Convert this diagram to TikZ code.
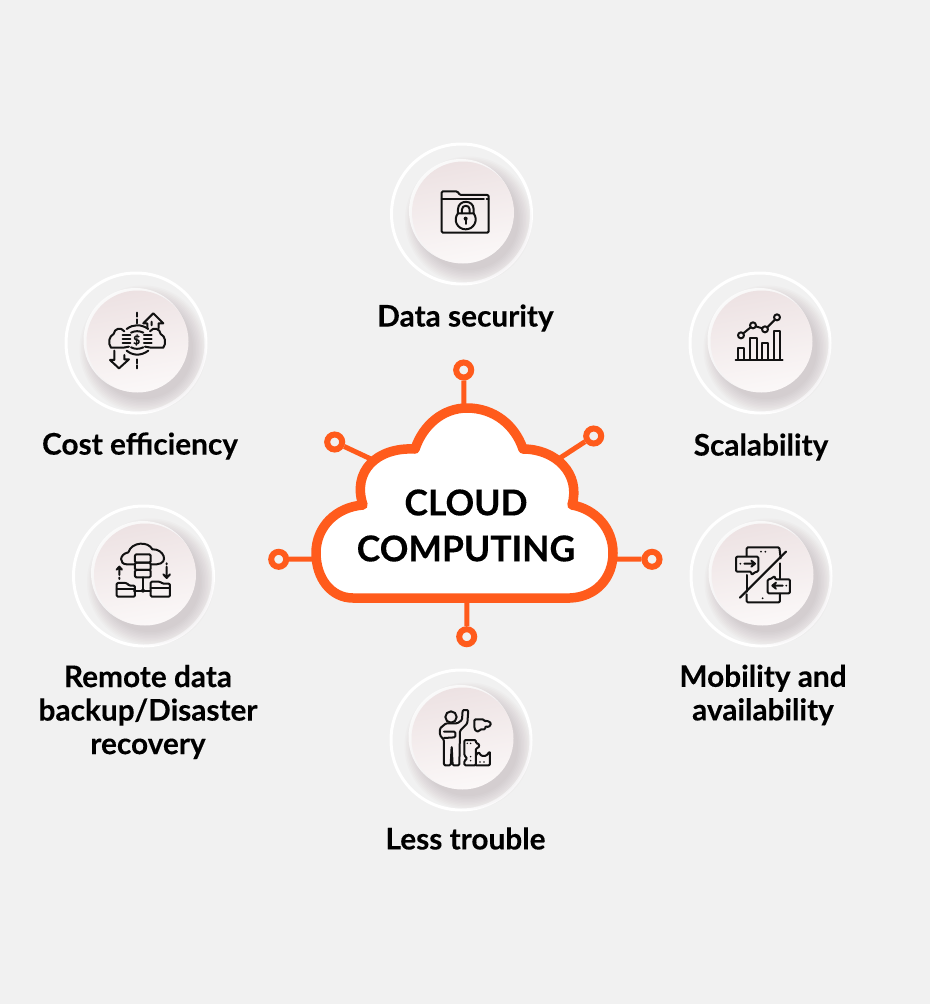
\documentclass[tikz,border=0pt]{standalone}
\usepackage{fontspec}
\setmainfont{Lato}[BoldFont={Lato Bold},BoldFeatures={FakeBold=0.2}]
\definecolor{bg}{HTML}{F1F1F1}
\definecolor{orng}{HTML}{FF5B1C}
\definecolor{ink}{HTML}{111111}
\definecolor{shadowc}{HTML}{A08890}
\definecolor{disktop}{HTML}{EDE2E3}
\definecolor{diskbot}{HTML}{FBF8F8}
\tikzset{
  ringc/.style={circle,draw=white,line width=3pt,minimum size=140pt,inner sep=0pt},
  diskc/.style={circle,minimum size=102pt,inner sep=0pt,top color=disktop,bottom color=diskbot,shading angle=10},
  lab/.style={font=\fontsize{29.8}{33.5}\selectfont\bfseries,align=center,text=black,inner sep=0pt},
  cloudtext/.style={font=\fontsize{35.5}{46}\selectfont\bfseries,align=center,text=black,inner sep=0pt},
  pin/.style={circle,draw=orng,line width=6pt,fill=bg,minimum size=15pt,inner sep=0pt},
  spoke/.style={draw=orng,line width=5pt},
  ico/.style={draw=ink,line width=2pt,line join=round,line cap=round},
  icobox/.style={ico,rounded corners=1.2pt},
}
\newcommand{\badge}[3]{%
  \node[ringc] (r#1) at (#2,#3) {};
  \foreach \rr in {50,51.5,...,64}{
    \fill[shadowc,opacity=0.035] (#2+7,#3+6) circle (\rr pt);
  }
  \fill[white,opacity=0.75] (#2-0.5,#3-3) circle (52pt);
  \node[diskc] (d#1) at (#2+1.5,#3-1.5) {};
}
\begin{document}
\begin{tikzpicture}[x=1pt,y=-1pt]
\useasboundingbox (0,0) rectangle (930,1004);
\fill[bg] (0,0) rectangle (930,1004);

\badge{sec}{461.5}{214}
\badge{cost}{136}{343}
\badge{sca}{760}{343}
\badge{rem}{143.5}{576}
\badge{mob}{761}{576}
\badge{les}{461}{740}

% labels
\node[lab] (lsec) at (465.5,318) {Data security};
\node[lab] (lcost) at (140,446) {Cost efficiency};
\node[lab] (lsca) at (761,447) {Scalability};
\node[lab] (lrem) at (148,712) {Remote data\\backup/Disaster\\recovery};
\node[lab] (lmob) at (763,695) {Mobility and\\availability};
\node[lab] (lles) at (465.5,838.5) {Less trouble};

% cloud anchors and pins
\coordinate (ct) at (464,408);
\coordinate (cul) at (373,460);
\coordinate (cur) at (560,458);
\coordinate (cl) at (316,559);
\coordinate (cr) at (613,559);
\coordinate (cb) at (467,598);
\node[pin] (pt) at (463.7,370) {};
\node[pin] (pul) at (334.7,442) {};
\node[pin] (pur) at (593.7,436) {};
\node[pin] (pl) at (278.7,559.3) {};
\node[pin] (pr) at (652,559.3) {};
\node[pin] (pb) at (466.7,636.7) {};
\draw[spoke] (pt) -- (ct);
\draw[spoke] (pul) -- (cul);
\draw[spoke] (pur) -- (cur);
\draw[spoke] (pl) -- (cl);
\draw[spoke] (pr) -- (cr);
\draw[spoke] (pb) -- (cb);

% cloud
\draw[draw=orng,line width=9.5pt,fill=white,line join=round]
  (353,598)
  .. controls (331,598) and (316,578) .. (316,553)
  .. controls (316,527) and (336,507) .. (363,505)
  .. controls (352,472) and (376,447) .. (415,449)
  .. controls (423,425) and (443,408) .. (467,408)
  .. controls (494,408) and (515,425) .. (523,449)
  .. controls (556,449) and (581,474) .. (572,505)
  .. controls (595,509) and (613,528) .. (613,553)
  .. controls (613,578) and (596,597) .. (570,598)
  -- cycle;
\node[cloudtext] (ctext) at (466,525.5) {CLOUD\\COMPUTING};

% Data security icon
\begin{scope}[shift={(380,130)},x=0.3333pt,y=-0.3333pt]
  \draw[icobox] (185,308) -- (185,184) -- (232,184) -- (240,195) -- (326,195) -- (326,308) -- cycle;
  \draw[ico] (185,207) -- (312,207) (320,206) -- (326,206);
  \draw[ico,fill=none] (234,250) .. controls (218,270) and (232,298) .. (257,298) .. controls (282,298) and (296,270) .. (281,250);
  \draw[ico] (234,250) -- (234,238) .. controls (234,208) and (281,208) .. (281,238) -- (281,250) -- cycle;
  \draw[ico] (246,250) -- (246,238) .. controls (246,224) and (269,224) .. (269,238) -- (269,250);
  \fill[ink] (257,266) circle (6);
  \draw[ico] (257,266) -- (257,282);
\end{scope}

% Cost icon
\begin{scope}[shift={(55,260)},x=0.3333pt,y=-0.3333pt]
  \draw[ico] (245,158) -- (245,170) (245,178) -- (245,190) (245,298) -- (245,310) (245,316) -- (245,325);
  \draw[ico] (215,207) .. controls (235,192) and (258,192) .. (280,207);
  \draw[ico] (215,272) .. controls (235,288) and (258,288) .. (280,272);
  \draw[ico] (228,218) .. controls (240,212) and (252,212) .. (265,218);
  \draw[ico] (228,262) .. controls (240,268) and (252,268) .. (265,262);
  \draw[ico] (208,214) .. controls (198,200) and (178,205) .. (176,222) .. controls (162,228) and (158,250) .. (168,263) -- (205,263) (205,263) -- (222,260);
  \draw[ico] (203,226) -- (226,226) (203,238) -- (226,238) (203,250) -- (226,250);
  \draw[ico] (285,214) .. controls (295,200) and (315,205) .. (317,222) .. controls (331,228) and (335,250) .. (325,263) -- (288,263) (288,263) -- (270,260);
  \draw[ico] (290,226) -- (267,226) (290,238) -- (267,238) (290,250) -- (267,250);
  \node[font=\fontsize{12}{12}\selectfont\bfseries,text=ink,inner sep=0pt] (dollar) at (245,240) {\$};
  \draw[ico] (277,205) -- (277,190) -- (265,190) -- (295,160) -- (325,190) -- (311,190) -- (311,205) (290,196) -- (290,185);
  \draw[ico] (178,272) -- (178,300) -- (165,300) -- (192,325) -- (222,298) -- (208,298) -- (208,285);
\end{scope}

% Scalability icon
\begin{scope}[shift={(680,260)},x=0.3333pt,y=-0.3333pt]
  \draw[ico] (167,300) -- (308,300);
  \draw[ico] (174,300) -- (174,265) -- (193,265) -- (193,300);
  \draw[ico] (210,300) -- (210,235) -- (230,235) -- (230,300);
  \draw[ico] (247,300) -- (247,248) -- (265,248) -- (265,300);
  \draw[ico] (281,300) -- (281,212) -- (300,212) -- (300,300);
  \draw[ico] (190,220) -- (212,202) (227,199) -- (247,205) (262,202) -- (285,179);
  \foreach \p in {(183,226),(219,196),(255,208),(291,172)} \draw[ico] \p circle (9);
\end{scope}

% Remote icon
\begin{scope}[shift={(60,495)},x=0.3333pt,y=-0.3333pt]
  \draw[ico] (222,208) -- (200,208) .. controls (178,208) and (176,178) .. (205,172) .. controls (215,140) and (265,138) .. (277,163) .. controls (310,160) and (330,205) .. (290,208) -- (272,208);
  \draw[icobox] (225,178) rectangle (272,203);
  \draw[icobox] (225,203) rectangle (272,225);
  \draw[icobox] (225,225) rectangle (272,247);
  \draw[ico] (249,247) -- (249,287) (222,287) -- (272,287);
  \fill[ink] (249,287) circle (6);
  \draw[icobox] (170,305) -- (170,264) -- (200,264) -- (208,272) -- (225,272) -- (225,305) -- cycle;
  \draw[ico] (170,283) -- (225,283);
  \draw[icobox] (272,305) -- (272,260) -- (300,260) -- (308,266) -- (330,266) -- (330,305) -- cycle;
  \draw[ico] (272,280) -- (330,280);
  \draw[ico] (178,240) -- (178,216) (170,224) -- (178,215) -- (186,224) (178,248) -- (178,252);
  \draw[ico] (320,215) -- (320,248) (310,238) -- (320,249) -- (330,238) (320,205) -- (320,208);
\end{scope}

% Mobility icon
\begin{scope}[shift={(680,495)},x=0.3333pt,y=-0.3333pt]
  \draw[icobox] (200,183) -- (200,157) -- (298,157) -- (302,190);
  \draw[ico] (200,240) -- (200,290);
  \draw[ico] (300,205) -- (300,250);
  \draw[icobox] (200,298) -- (200,322) -- (300,322) -- (300,296);
  \draw[ico,line width=2.2pt] (180,308) -- (318,170);
  \draw[icobox] (168,185) -- (235,185) -- (235,230) -- (228,230) -- (214,240) -- (214,230) -- (168,230) -- cycle;
  \draw[ico] (193,206) -- (224,206) (214,197) -- (225,206) -- (214,215);
  \fill[ink] (181,206) circle (3);
  \draw[icobox] (263,253) -- (270,253) -- (285,243) -- (285,253) -- (330,253) -- (330,295) -- (263,295) -- cycle;
  \draw[ico] (278,272) -- (308,272) (288,263) -- (277,272) -- (288,281);
  \fill[ink] (319,272) circle (3);
  \fill[ink] (243,170) circle (3) (256,170) circle (3) (248,310) circle (3);
\end{scope}

% Less trouble icon
\begin{scope}[shift={(380,660)},x=0.3333pt,y=-0.3333pt]
  \draw[ico] (213,171) circle (17);
  \draw[icobox] (192,316) -- (192,240) -- (180,226) -- (180,205) -- (198,190) -- (232,190) -- (246,180) -- (248,150) -- (265,150) -- (262,190) -- (240,212) -- (238,316) -- (218,316) -- (215,258) -- (212,316) -- cycle;
  \draw[icobox] (192,215) -- (226,215) -- (226,232) -- (192,234);
  \draw[icobox] (283,178) -- (312,178) -- (312,184) -- (322,182) -- (334,190) -- (326,202) -- (316,198) -- (316,208) -- (300,208) -- (298,214) -- (288,214) -- (283,204) -- cycle;
  \draw[icobox] (253,240) -- (288,240) -- (288,250) -- (298,252) -- (296,264) -- (288,264) -- (288,316) -- (253,316) -- (253,302) -- (262,296) -- (253,286) -- cycle;
  \draw[icobox] (288,286) -- (296,276) -- (304,288) -- (318,288) -- (330,274) -- (330,316) -- (288,316);
  \fill[ink] (262,250) circle (2.5) (272,250) circle (2.5) (272,290) circle (2.5) (272,302) circle (2.5) (300,306) circle (2.5) (312,306) circle (2.5);
\end{scope}
\end{tikzpicture}
\end{document}
